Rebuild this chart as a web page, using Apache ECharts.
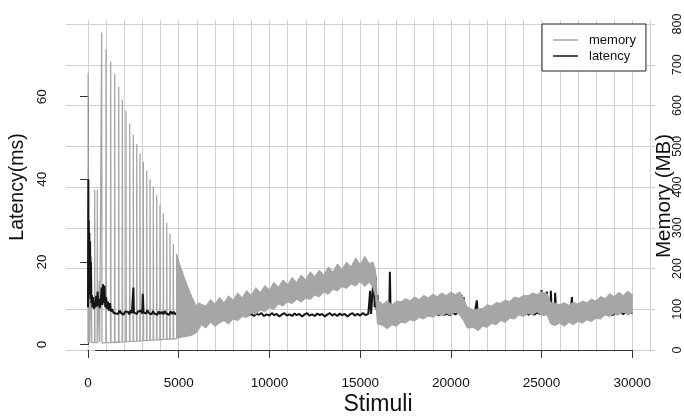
<!DOCTYPE html>
<html><head><meta charset="utf-8">
<script src="https://cdn.jsdelivr.net/npm/echarts@6/dist/echarts.min.js"></script>
<style>html,body{margin:0;padding:0;background:#fff}#c{width:684px;height:417px}</style>
</head><body><div id="c"></div>
<script>
// ---- data ----
const stimuliTicks = [0, 5000, 10000, 15000, 20000, 25000, 30000];
const latencyTicks = [0, 20, 40, 60];
const memoryTicks = [0, 100, 200, 300, 400, 500, 600, 700, 800];

// memory (MB): early GC spikes as [stimuli, MB]
const memorySpikes = [
[0,18],[8,680],[22,18],[70,17],[80,290],[95,17],[180,19],[190,230],[205,18],[360,18],[370,393],[385,18],[505,18],[515,393],[530,18],[620,19],[630,170],[645,19],
[745,17],[755,779],[770,17],
[983,18],[993,738],[1008,18],
[1242,18],[1252,708],[1267,18],
[1462,19],[1472,677],[1487,19],
[1683,19],[1693,646],[1708,19],
[1882,20],[1892,615],[1907,20],
[2086,20],[2096,587],[2111,20],
[2290,21],[2300,556],[2315,21],
[2488,21],[2498,528],[2513,21],
[2676,22],[2686,505],[2701,22],
[2858,22],[2868,483],[2883,22],
[3040,23],[3050,462],[3065,23],
[3227,23],[3237,440],[3252,23],
[3409,24],[3419,419],[3434,24],
[3591,24],[3601,401],[3616,24],
[3779,25],[3789,380],[3804,25],
[3960,25],[3970,356],[3985,25],
[4143,26],[4153,335],[4168,26],
[4330,26],[4340,312],[4355,26],
[4512,27],[4522,286],[4537,27],
[4694,27],[4704,260],[4719,27],
[4880,28]
];

// memory (MB): dense oscillation band, upper / lower envelope
const bandStimuli = [4880,5000,5250,5500,5750,5955,6100,6250,6500,6750,7000,7250,7500,7750,8000,8250,8500,8750,9000,9250,9500,9750,10000,10250,10500,10750,11000,11250,11500,11750,12000,12250,12500,12750,13000,13250,13500,13750,14000,14250,14500,14750,15000,15250,15500,15700,15850,15950,16250,16500,16750,17000,17250,17500,17750,18000,18250,18500,18750,19000,19250,19500,19750,20000,20250,20500,20700,20900,21250,21500,21750,22000,22250,22500,22750,23000,23250,23500,23750,24000,24250,24500,24750,25000,25300,25500,25750,26000,26250,26500,26750,27000,27250,27500,27750,28000,28250,28500,28750,29000,29250,29500,29750,30000];
const bandUpperMB = [236,218,185,155,128,108,116,112,108,124,113,129,116,133,122,140,128,146,134,153,141,158,148,166,154,172,160,178,166,184,172,192,180,196,184,204,192,211,198,216,204,226,210,230,212,216,195,124,112,121,110,120,118,126,121,130,124,134,128,137,131,140,134,142,136,143,126,106,98,101,102,111,108,116,115,122,119,130,127,134,133,140,136,143,138,116,115,111,116,110,117,113,120,116,125,120,131,126,138,131,142,134,144,136];
const bandLowerMB = [28,30,32,34,37,42,50,62,54,68,58,66,72,64,76,72,82,80,90,88,98,94,104,100,113,108,118,114,124,118,127,124,135,130,142,137,149,145,156,151,162,157,168,156,166,154,130,64,60,52,62,58,68,66,74,71,80,76,84,80,88,84,90,86,94,85,72,54,55,47,58,56,65,62,72,68,78,76,86,82,90,86,94,84,86,64,60,66,58,68,62,70,66,74,70,78,76,86,82,90,86,94,86,92];

// latency (ms) as [stimuli, ms]
const latencyPoints = [
[0,9],[20,40],[30,14],[45,30],[60,12],[75,27],[95,13],[115,25],[135,11],[160,20],[185,10],[215,12],[250,9],[290,11.5],[330,8.6],[370,10.2],[410,9],[450,11.8],[490,9.2],[530,12.8],[570,9.4],[610,11],[650,8.8],[700,10.2],[750,13.8],[790,9.6],[830,14.6],[870,10],[910,14.2],[950,9],[1000,11.5],[1050,8.6],[1100,10.4],[1150,8.2],[1213,10],[1260,8],[1330,8.6],[1400,7.7],[1460,8.1],[1530,7.5],[1610,7.9],[1670,7.4],[1740,8.2],[1830,7.6],[1900,7.9],[1960,7.2],[2050,8],[2140,7.6],[2200,7.9],[2280,7.3],[2350,8.3],[2420,7.6],[2470,7.9],[2500,13.8],[2530,7.7],[2610,8.1],[2690,7.4],[2760,8],[2850,7.7],[2920,8.2],[2990,7.5],[3020,12.3],[3060,7.8],[3130,8.2],[3190,7.5],[3270,8.3],[3350,7.6],[3420,7.9],[3500,7.3],[3590,8.1],[3650,7.5],[3740,7.8],[3820,7.2],[3900,8],[3980,7.4],[4070,7.9],[4150,7.3],[4230,8.1],[4310,7.5],[4400,7.8],[4470,7.2],[4560,8],[4640,7.4],[4720,7.9],[4800,7.3],[5000,7.9],[5200,7.3],[5400,7.8],[5600,7.2],[5800,7.7],[6000,7.2],[6200,7.7],[6400,7.1],[6600,7.6],[6800,7.1],[7000,7.5],[7200,7],[7400,7.6],[7600,7.1],[7780,7.5],[7900,6.9],[8050,7.3],[8200,7.6],[8320,7],[8480,7.4],[8600,7.1],[8760,7.7],[8880,7.2],[9000,7.4],[9150,6.9],[9300,7.5],[9420,7.2],[9560,7.6],[9700,6.9],[9850,7.3],[10000,7],[10130,7.6],[10260,7.1],[10400,7.4],[10550,6.8],[10700,7.3],[10820,7.6],[10960,7],[11100,7.3],[11250,6.9],[11380,7.5],[11500,7.1],[11650,7.4],[11800,6.8],[11940,7.3],[12080,7.6],[12200,7],[12350,7.3],[12500,6.9],[12640,7.5],[12780,7.1],[12900,7.4],[13050,6.8],[13200,7.3],[13330,7.6],[13460,7],[13600,7.4],[13750,6.9],[13880,7.5],[14000,7.1],[14150,7.4],[14300,6.8],[14440,7.3],[14580,7.6],[14700,7],[14850,7.4],[15000,7],[15150,7.6],[15300,7.1],[15450,7.4],[15500,7],[15550,13],[15600,7.4],[15700,7.8],[15760,17.2],[15800,9],[15850,16.5],[15900,8.5],[15950,12],[16000,8],[16200,7.4],[16400,8],[16600,7.2],[16640,17.6],[16680,7.4],[16800,7.8],[17000,7.3],[17200,7.7],[17400,7.1],[17600,7.6],[17800,7],[18000,7.5],[18150,7.1],[18300,7.6],[18450,7.2],[18600,7.5],[18750,7],[18900,7.6],[19050,7.2],[19200,7.5],[19350,7.1],[19500,7.7],[19650,7.2],[19800,7.5],[19950,7.1],[20100,7.7],[20250,7.3],[20400,7.8],[20550,7.4],[20600,12],[20650,7.6],[20700,11.5],[20760,7.8],[20900,7.2],[21100,7.7],[21300,7.1],[21430,10.7],[21480,7.3],[21600,7.6],[21800,7],[22000,7.5],[22200,7],[22400,7.6],[22600,7.1],[22800,7.5],[23000,7.1],[23200,7.6],[23400,7.2],[23550,7.7],[23700,7.2],[23850,7.6],[24000,7.1],[24150,7.7],[24300,7.2],[24450,7.6],[24600,7.2],[24750,7.7],[24950,7.3],[25000,13.2],[25050,7.6],[25250,7.9],[25290,12.8],[25340,7.6],[25480,7.9],[25510,13],[25560,7.4],[25720,7.8],[25750,12.5],[25800,7.3],[26000,7.7],[26200,7.1],[26400,7.6],[26600,7.1],[26670,11.5],[26720,7.2],[26900,7.6],[27100,7],[27300,7.5],[27500,7.1],[27700,7.6],[27900,7.1],[28100,7.6],[28300,7.2],[28450,7.7],[28600,7.2],[28750,7.6],[28900,7.1],[29050,7.7],[29200,7.3],[29350,7.9],[29500,7.3],[29650,8],[29800,7.4],[29900,7.9],[30000,7.5]
];

// ---- chart ----
const FONT = 'Liberation Sans, Arial, Helvetica, sans-serif';
const GRID_C = '#d0d0d0';
const AX_C = '#333';
const MEM_C = '#a6a6a6';
const chart = echarts.init(document.getElementById('c'), null, {renderer: 'canvas'});

const hidX = (min, max, gi) => ({type:'value', gridIndex: gi, min, max, show: false});
const hidY = gi => ({type:'value', gridIndex: gi, min: 0, max: 1, show: false});

chart.setOption({
  animation: false,
  backgroundColor: '#fff',
  textStyle: {fontFamily: FONT},
  grid: [
    {left: 88, right: 33.4, top: 20, bottom: 65},      // vertical grid lines
    {left: 66, right: 29, top: 24, bottom: 67},        // memory
    {left: 88, right: 51.7, top: 24, bottom: 67},      // stimuli axis
    {left: 66, right: 29, top: 96.7, bottom: 72.5}     // latency
  ],
  xAxis: [
    {type:'value', gridIndex:0, min:0, max:31000, interval:1000,
     axisLine:{show:false}, axisTick:{show:false}, axisLabel:{show:false},
     splitLine:{show:true, lineStyle:{color:GRID_C, width:1}}},
    hidX(-1212, 31251, 1),
    {type:'value', gridIndex:2, min:0, max:stimuliTicks[stimuliTicks.length-1], interval:stimuliTicks[1]-stimuliTicks[0],
     position:'bottom', offset:7,
     axisLine:{show:true, lineStyle:{color:AX_C, width:1}},
     axisTick:{show:true, length:8, lineStyle:{color:AX_C}},
     axisLabel:{show:true, fontSize:13.5, color:'#111', margin:19, fontFamily:FONT, formatter: v => String(v)},
     splitLine:{show:false}},
    hidX(-1212, 31251, 3)
  ],
  yAxis: [
    hidY(0),
    {type:'value', gridIndex:1, position:'right', min:memoryTicks[0], max:memoryTicks[memoryTicks.length-1], interval:100,
     axisLine:{show:true, lineStyle:{color:GRID_C, width:1}},
     axisTick:{show:true, length:7, lineStyle:{color:GRID_C}},
     axisLabel:{show:true, rotate:90, fontSize:12.5, color:'#111', margin:16, fontFamily:FONT, formatter: v => String(v)},
     splitLine:{show:true, lineStyle:{color:GRID_C, width:1}}},
    hidY(2),
    {type:'value', gridIndex:3, position:'left', min:latencyTicks[0], max:latencyTicks[latencyTicks.length-1], interval:20,
     axisLine:{show:true, lineStyle:{color:AX_C, width:1}},
     axisTick:{show:true, length:8, lineStyle:{color:AX_C}},
     axisLabel:{show:true, rotate:90, fontSize:13.5, color:'#111', margin:17, fontFamily:FONT, formatter: v => String(v)},
     splitLine:{show:false}}
  ],
  legend: {
    data: ['memory', 'latency'], orient: 'vertical', left: 542, top: 24,
    padding: [9, 10, 8, 11], itemWidth: 25, itemHeight: 1.5, itemGap: 2, icon: 'rect',
    borderColor: '#222', borderWidth: 1, backgroundColor: '#fff',
    textStyle: {fontSize: 13, lineHeight: 14, color: '#111', fontFamily: FONT, padding: [0,0,0,6]}
  },
  graphic: [
    {type:'text', x:18, y:187, rotation:Math.PI/2, style:{text:'Latency(ms)', font:'19.5px ' + FONT, fill:'#111', align:'center', verticalAlign:'middle'}},
    {type:'text', x:664, y:196, rotation:Math.PI/2, style:{text:'Memory (MB)', font:'20.5px ' + FONT, fill:'#111', align:'center', verticalAlign:'middle'}},
    {type:'text', x:378, y:405, style:{text:'Stimuli', font:'23px ' + FONT, fill:'#111', align:'center', verticalAlign:'middle'}}
  ],
  series: [
    {name:'memory', type:'line', xAxisIndex:1, yAxisIndex:1, data: memorySpikes, showSymbol:false, symbol:'none',
     lineStyle:{color:MEM_C, width:1.3}, itemStyle:{color:MEM_C}, z:2},
    {name:'latency', type:'line', xAxisIndex:3, yAxisIndex:3, data: latencyPoints, showSymbol:false, symbol:'none',
     lineStyle:{color:'#151515', width:2}, itemStyle:{color:'#151515'}, z:3, clip:false},
    {name:'memoryBand', type:'custom', xAxisIndex:1, yAxisIndex:1, z:4,
     data: [[bandStimuli[0], bandLowerMB[0]]],
     renderItem: function (params, api) {
       const pts = [];
       for (let i = 0; i < bandStimuli.length; i++) pts.push(api.coord([bandStimuli[i], bandUpperMB[i]]));
       for (let i = bandStimuli.length - 1; i >= 0; i--) pts.push(api.coord([bandStimuli[i], bandLowerMB[i]]));
       return {type:'polygon', shape:{points: pts}, style:{fill: MEM_C, stroke: MEM_C, lineWidth: 1}};
     }}
  ]
});
</script></body></html>
